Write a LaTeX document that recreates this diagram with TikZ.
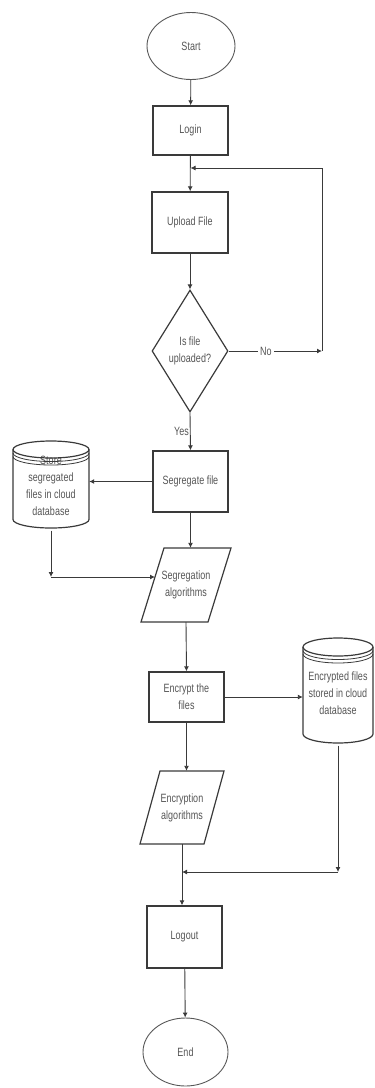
\documentclass[tikz,border=0pt]{standalone}
\usepackage{fontspec}
\setmainfont[FakeStretch=0.75]{Liberation Sans}
\usetikzlibrary{arrows.meta,shapes.geometric}
\definecolor{lc}{HTML}{3A3A3A}
\definecolor{tx}{HTML}{555555}
\begin{document}
\begin{tikzpicture}[x=1pt,y=-1pt,
  every node/.style={font=\fontsize{12}{17}\selectfont, text=tx, align=center, inner sep=0pt},
  box/.style={draw=lc, line width=1.4pt},
  oval/.style={ellipse, draw=lc!85, line width=0.9pt},
  shp/.style={draw=lc, line width=1.2pt},
  stripe/.style={draw=lc, line width=0.8pt},
  ghost/.style={draw=none},
  arr/.style={draw=lc, line width=0.9pt, -{Latex[length=5pt,width=5pt]}},
  wire/.style={draw=lc, line width=0.9pt}]
\path[use as bounding box] (0,0) rectangle (375,1088);

% nodes
\node[oval, minimum width=88pt, minimum height=67pt] (start) at (191,46) {Start};
\node[box, minimum width=75pt, minimum height=49pt] (login) at (190.5,130.5) {Login};
\node[box, minimum width=76pt, minimum height=61pt] (upload) at (190,222.5) {Upload File};
\node[diamond, shp, aspect=0.6, minimum width=76pt, minimum height=122pt] (dec) at (190,351) {Is file\\uploaded?};
\node[box, minimum width=75pt, minimum height=61pt] (seg) at (190.5,481.5) {Segregate file};
\node[ghost, minimum width=76pt, minimum height=89pt] (store) at (51,486) {Store\\segregated\\files in cloud\\database};
\node[ghost, minimum width=67pt, minimum height=74pt] (segalg) at (186,585) {Segregation\\algorithms};
\node[box, minimum width=75pt, minimum height=50pt] (enc) at (186.5,697) {Encrypt the\\files};
\node[ghost, minimum width=70pt, minimum height=105pt] (encdb) at (338,693) {Encrypted files\\stored in cloud\\database};
\node[ghost, minimum width=64pt, minimum height=73pt] (encalg) at (182,807.5) {Encryption\\algorithms};
\node[box, minimum width=75pt, minimum height=62pt] (logout) at (184.5,937) {Logout};
\node[oval, minimum width=85pt, minimum height=68pt] (end) at (185.5,1052) {End};

% parallelograms
\draw[shp] (141,622) -- (164,548) -- (231,548) -- (208,622) -- cycle;
\draw[shp] (140,844) -- (160,771) -- (224,771) -- (204,844) -- cycle;

% cylinders
\draw[shp] (13,449.5) -- (13,519.5) arc[start angle=180,end angle=0,x radius=38,y radius=8.5] -- (89,449.5);
\draw[shp] (51,449.5) ellipse[x radius=38,y radius=8.5];
\draw[stripe] (13,453) arc[start angle=180,end angle=0,x radius=38,y radius=8.5];
\draw[stripe] (13,456.5) arc[start angle=180,end angle=0,x radius=38,y radius=8.5];

\draw[shp] (303,647) -- (303,734) arc[start angle=180,end angle=0,x radius=35,y radius=9] -- (373,647);
\draw[shp] (338,647) ellipse[x radius=35,y radius=9];
\draw[stripe] (303,650.5) arc[start angle=180,end angle=0,x radius=35,y radius=9];
\draw[stripe] (303,654) arc[start angle=180,end angle=0,x radius=35,y radius=9];

% coordinates
\coordinate (lpIn) at (190.5,168);
\coordinate (lpTop) at (322,168);
\coordinate (noEnd) at (322,351);
\coordinate (c1) at (51,577);
\coordinate (sgL) at (155,577);
\coordinate (c2) at (338,872);

% connectors
\draw[arr] (start) -- (login);
\draw[arr] (login) -- (upload);
\draw[arr] (upload) -- (dec);
\draw[arr] (dec.east) -- node[pos=0.4, fill=white, inner sep=2pt] {No} (noEnd);
\draw[wire] (noEnd) -- (lpTop);
\draw[arr] (lpTop) -- (lpIn);
\draw[arr] (dec.south) -- node[left=1pt] {Yes} (seg.north);
\draw[arr] (seg.west) -- (seg.west -| store.east);
\draw[arr] (store.south) -- (c1);
\draw[arr] (c1) -- (sgL);
\draw[arr] (seg.south) -- (seg.south |- segalg.north);
\draw[arr] (segalg.south) -- (enc.north);
\draw[arr] (enc.east) -- (enc.east -| encdb.west);
\draw[arr] (enc.south) -- (enc.south |- encalg.north);
\draw[arr] (encdb.south) -- (c2);
\draw[arr] (c2) -- (encalg.south |- c2);
\draw[arr] (encalg.south) -- (encalg.south |- logout.north);
\draw[arr] (logout) -- (end);
\end{tikzpicture}
\end{document}
